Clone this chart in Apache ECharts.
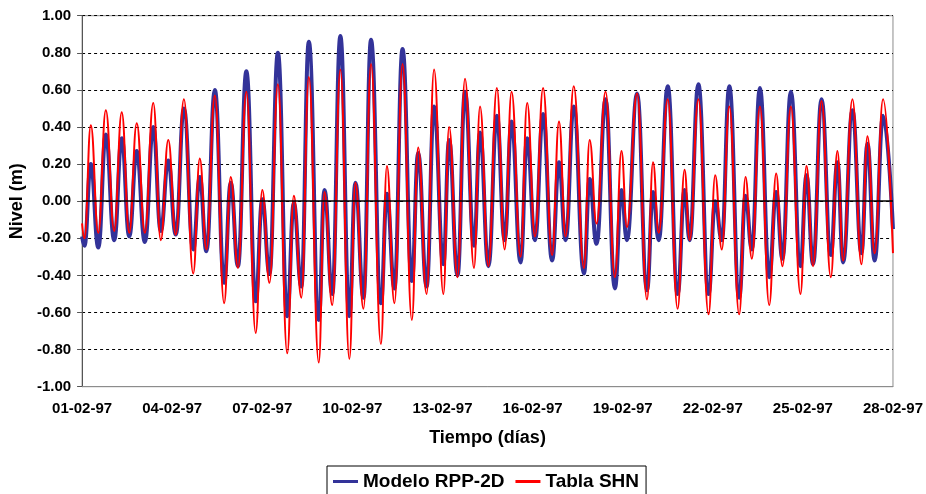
<!DOCTYPE html>
<html>
<head>
<meta charset="utf-8">
<script src="https://cdn.jsdelivr.net/npm/echarts@6/dist/echarts.min.js"></script>
<style>
  html, body { margin: 0; padding: 0; background: #fff; }
  #chart { width: 926px; height: 494px; }
</style>
</head>
<body>
<div id="chart"></div>
<script>
// time of each high / low water, in days from 01-02-97
const days = [
  0.00, 0.08, 0.29, 0.54, 0.79, 1.07, 1.32, 1.57, 1.82, 2.09,
  2.37, 2.62, 2.87, 3.12, 3.39, 3.70, 3.92, 4.14, 4.42, 4.73,
  4.95, 5.19, 5.47, 5.78, 6.00, 6.24, 6.52, 6.83, 7.05, 7.30,
  7.55, 7.88, 8.07, 8.33, 8.60, 8.90, 9.10, 9.37, 9.62, 9.95,
  10.15, 10.40, 10.67, 10.98, 11.19, 11.47, 11.72, 12.03, 12.22, 12.50,
  12.75, 13.05, 13.25, 13.53, 13.81, 14.07, 14.30, 14.60, 14.82, 15.08,
  15.35, 15.65, 15.88, 16.10, 16.37, 16.71, 16.90, 17.13, 17.43, 17.74,
  17.96, 18.14, 18.48, 18.81, 19.01, 19.20, 19.50, 19.83, 20.06, 20.23,
  20.52, 20.86, 21.08, 21.30, 21.55, 21.88, 22.09, 22.30, 22.57, 22.88,
  23.11, 23.32, 23.60, 23.92, 24.12, 24.34, 24.62, 24.93, 25.15, 25.34,
  25.65, 25.95, 26.15, 26.39, 26.67, 27.00
];

// Modelo RPP-2D (m)
const modelo = [
  -0.19, -0.24, 0.20, -0.25, 0.36, -0.21, 0.34, -0.19, 0.27, -0.22,
  0.40, -0.16, 0.22, -0.18, 0.50, -0.26, 0.13, -0.27, 0.60, -0.44,
  0.10, -0.35, 0.70, -0.54, 0.01, -0.39, 0.80, -0.62, -0.01, -0.46,
  0.86, -0.64, 0.06, -0.50, 0.89, -0.62, 0.10, -0.52, 0.87, -0.55,
  0.04, -0.47, 0.82, -0.43, 0.26, -0.46, 0.51, -0.34, 0.33, -0.40,
  0.59, -0.24, 0.37, -0.35, 0.46, -0.21, 0.43, -0.33, 0.34, -0.21,
  0.47, -0.32, 0.21, -0.21, 0.51, -0.39, 0.12, -0.23, 0.55, -0.47,
  0.06, -0.21, 0.58, -0.48, 0.05, -0.21, 0.62, -0.50, 0.06, -0.21,
  0.63, -0.50, 0.00, -0.21, 0.62, -0.52, 0.03, -0.26, 0.61, -0.41,
  0.05, -0.31, 0.59, -0.35, 0.14, -0.34, 0.55, -0.29, 0.21, -0.33,
  0.49, -0.28, 0.31, -0.32, 0.46, -0.15
];

// Tabla SHN (m)
const tabla = [
  -0.12, -0.20, 0.41, -0.17, 0.49, -0.16, 0.48, -0.17, 0.42, -0.17,
  0.53, -0.21, 0.33, -0.18, 0.55, -0.39, 0.23, -0.26, 0.57, -0.55,
  0.13, -0.36, 0.59, -0.71, 0.06, -0.44, 0.63, -0.82, 0.03, -0.52,
  0.67, -0.87, 0.05, -0.56, 0.71, -0.85, 0.10, -0.58, 0.74, -0.77,
  0.19, -0.55, 0.74, -0.64, 0.29, -0.50, 0.71, -0.50, 0.40, -0.41,
  0.66, -0.36, 0.51, -0.35, 0.61, -0.26, 0.59, -0.30, 0.53, -0.19,
  0.61, -0.29, 0.43, -0.19, 0.62, -0.36, 0.33, -0.12, 0.59, -0.41,
  0.27, -0.14, 0.58, -0.53, 0.21, -0.17, 0.55, -0.58, 0.17, -0.21,
  0.55, -0.61, 0.14, -0.26, 0.51, -0.61, 0.13, -0.31, 0.51, -0.56,
  0.15, -0.35, 0.51, -0.50, 0.19, -0.35, 0.54, -0.41, 0.27, -0.32,
  0.55, -0.34, 0.35, -0.28, 0.55, -0.28
];

const dateLabels = [
  '01-02-97', '04-02-97', '07-02-97', '10-02-97', '13-02-97',
  '16-02-97', '19-02-97', '22-02-97', '25-02-97', '28-02-97'
];

const font = '"Liberation Sans", Arial, sans-serif';

const chart = echarts.init(document.getElementById('chart'));

const option = {
  animation: false,
  backgroundColor: '#fff',
  textStyle: { fontFamily: font, color: '#000' },
  grid: {
    left: 82,
    right: 31,
    top: 15.7,
    bottom: 107.3,
    show: true,
    borderColor: '#8c8c8c',
    borderWidth: 1,
    backgroundColor: '#fff'
  },
  legend: {
    left: 327,
    top: 466,
    padding: [6, 7, 12, 6],
    itemGap: 11,
    itemWidth: 25,
    itemHeight: 3,
    borderColor: '#000',
    borderWidth: 1,
    textStyle: { fontFamily: font, fontSize: 19, fontWeight: 'bold', color: '#000' },
    data: [
      { name: 'Modelo RPP-2D', icon: 'rect' },
      { name: 'Tabla SHN', icon: 'rect' }
    ]
  },
  xAxis: {
    type: 'value',
    min: 0,
    max: 27,
    interval: 3,
    name: 'Tiempo (días)',
    nameLocation: 'middle',
    nameGap: 42,
    nameTextStyle: { fontFamily: font, fontSize: 18, fontWeight: 'bold', color: '#000' },
    axisLine: { onZero: false, lineStyle: { color: '#8c8c8c' } },
    axisTick: { show: false },
    splitLine: { show: false },
    axisLabel: {
      showMinLabel: true,
      showMaxLabel: true,
      margin: 15,
      fontFamily: font,
      fontSize: 15,
      fontWeight: 'bold',
      color: '#000',
      formatter: (v) => dateLabels[Math.round(v / 3)]
    }
  },
  yAxis: {
    type: 'value',
    min: -1,
    max: 1,
    interval: 0.2,
    name: 'Nivel (m)',
    nameLocation: 'middle',
    nameRotate: 90,
    nameGap: 56,
    nameTextStyle: { fontFamily: font, fontSize: 18, fontWeight: 'bold', color: '#000' },
    axisLine: { show: true, lineStyle: { color: '#555' } },
    axisTick: { show: true, length: 5, lineStyle: { color: '#555' } },
    splitLine: { show: true, lineStyle: { color: '#000', type: [3, 3], width: 1 } },
    axisLabel: {
      margin: 11,
      fontFamily: font,
      fontSize: 15,
      fontWeight: 'bold',
      color: '#000',
      formatter: (v) => v.toFixed(2)
    }
  },
  series: [
    {
      name: 'Modelo RPP-2D',
      type: 'line',
      data: days.map((d, i) => [d, modelo[i]]),
      showSymbol: false,
      smooth: 0.45,
      smoothMonotone: 'x',
      color: '#333399',
      lineStyle: { color: '#333399', width: 4 }
    },
    {
      name: 'Tabla SHN',
      type: 'line',
      data: days.map((d, i) => [d, tabla[i]]),
      showSymbol: false,
      smooth: 0.45,
      smoothMonotone: 'x',
      color: '#ff0000',
      lineStyle: { color: '#ff0000', width: 2 },
      markLine: {
        silent: true,
        symbol: 'none',
        label: { show: false },
        lineStyle: { color: '#000', type: 'solid', width: 1.5 },
        data: [{ yAxis: 0 }]
      }
    }
  ]
};

chart.setOption(option);
</script>
</body>
</html>
